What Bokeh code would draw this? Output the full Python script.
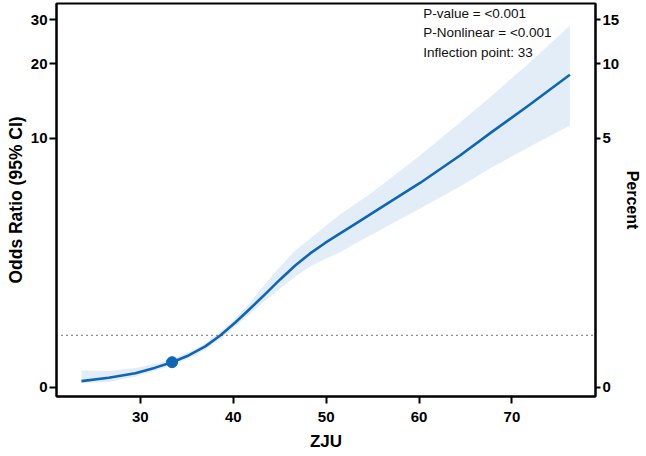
from bokeh.plotting import figure
from bokeh.models import (Range1d, LogScale, LogAxis, FixedTicker, Span, ColumnDataSource)
from bokeh.core.properties import value
from bokeh.embed import file_html
from bokeh.resources import INLINE

# ---- data ----
zju    = [23.66, 26.59, 29.46, 31.61, 33.41, 35.19, 36.99, 38.60, 40.22, 41.83, 43.44,
          45.05, 46.67, 48.28, 49.89, 51.51, 53.23, 55.09, 60.11, 64.41, 67.63, 71.94, 76.24]
or_est = [1.057, 1.091, 1.138, 1.198, 1.260, 1.341, 1.458, 1.614, 1.820, 2.072, 2.366,
          2.711, 3.086, 3.449, 3.801, 4.150, 4.553, 5.041, 6.624, 8.546, 10.48, 13.70, 18.04]
or_lo  = [1.038, 1.049, 1.104, 1.163, 1.228, 1.304, 1.418, 1.570, 1.754, 1.979, 2.232,
          2.494, 2.787, 3.058, 3.277, 3.490, 3.801, 4.139, 5.231, 6.413, 7.576, 9.288, 11.28]
or_hi  = [1.167, 1.162, 1.195, 1.240, 1.298, 1.379, 1.499, 1.667, 1.889, 2.191, 2.600,
          3.058, 3.546, 3.963, 4.428, 4.948, 5.479, 6.123, 8.546, 11.60, 14.62, 20.22, 28.48]

inflection_x = [33.41]
inflection_y = [1.260]
ref_line = 1.614

or_ticks = [1, 10, 20, 30]
or_tick_labels = ["0", "10", "20", "30"]
pct_ticks = [0.5, 5, 10, 15]
pct_tick_labels = ["0", "5", "10", "15"]
x_ticks = [30, 40, 50, 60, 70]

notes = ["P-value = <0.001", "P-Nonlinear = <0.001", "Inflection point: 33"]
note_x = [60.46, 60.46, 60.46]
note_y = [31.9, 26.8, 22.2]

BLUE = "#0E66B8"
BAND = "#E2EDF7"
FONT = "Liberation Sans"

y_lo, y_hi = 0.917, 34.9

p = figure(width=646, height=456, output_backend="svg", toolbar_location=None,
           y_axis_type="log", x_range=Range1d(20.97, 79.0), y_range=Range1d(y_lo, y_hi),
           min_border_left=56, min_border_right=51, min_border_top=3, min_border_bottom=60)

p.extra_y_ranges = {"pct": Range1d(y_lo / 2, y_hi / 2)}
p.extra_y_scales = {"pct": LogScale()}

src = ColumnDataSource(dict(x=zju, y=or_est, lo=or_lo, hi=or_hi))
p.varea(x="x", y1="lo", y2="hi", source=src, fill_color=BAND, fill_alpha=1.0)
p.add_layout(Span(location=ref_line, dimension="width", line_color="#222222",
                  line_dash="1 4", line_width=1.3))
p.line(x="x", y="y", source=src, line_color=BLUE, line_width=2.6, line_join="round")
p.scatter(x=inflection_x, y=inflection_y, size=11, fill_color=BLUE, line_color=BLUE)

p.text(x=note_x, y=note_y, text=notes, text_font=value(FONT), text_font_size="13.5px",
       text_color="#111111", text_baseline="middle", text_align="left")

p.grid.visible = False
p.outline_line_color = "black"
p.outline_line_width = 2
p.outline_line_alpha = 1.0

def style_axis(ax):
    ax.axis_line_width = 2
    ax.axis_line_color = "black"
    ax.major_tick_line_width = 2
    ax.major_tick_line_color = "black"
    ax.major_tick_out = 7
    ax.major_tick_in = 0
    ax.minor_tick_line_color = None
    ax.major_label_text_font = FONT
    ax.major_label_text_font_style = "bold"
    ax.major_label_text_font_size = "15px"
    ax.major_label_text_color = "black"
    ax.major_label_standoff = 2
    ax.axis_label_text_font = FONT
    ax.axis_label_text_font_style = "bold"
    ax.axis_label_text_font_size = "17px"
    ax.axis_label_text_color = "black"

# left axis
yl = p.yaxis[0]
yl.ticker = FixedTicker(ticks=or_ticks)
yl.major_label_overrides = {t: l for t, l in zip(or_ticks, or_tick_labels)}
yl.axis_label = "Odds Ratio (95% CI)"
style_axis(yl)
yl.axis_label_text_font_size = "17.5px"
yl.axis_label_standoff = 2

# bottom axis
xa = p.xaxis[0]
xa.ticker = FixedTicker(ticks=x_ticks)
xa.axis_label = "ZJU"
style_axis(xa)
xa.major_label_standoff = 8
xa.axis_label_standoff = 7

# right axis
yr = LogAxis(y_range_name="pct", ticker=FixedTicker(ticks=pct_ticks), axis_label="Percent")
yr.major_label_overrides = {t: l for t, l in zip(pct_ticks, pct_tick_labels)}
style_axis(yr)
yr.major_tick_out = 5
yr.major_label_standoff = 2
yr.axis_label_text_font_size = "16px"
yr.axis_label_standoff = 2
p.add_layout(yr, "right")

open("out.html", "w").write(file_html(p, INLINE))
